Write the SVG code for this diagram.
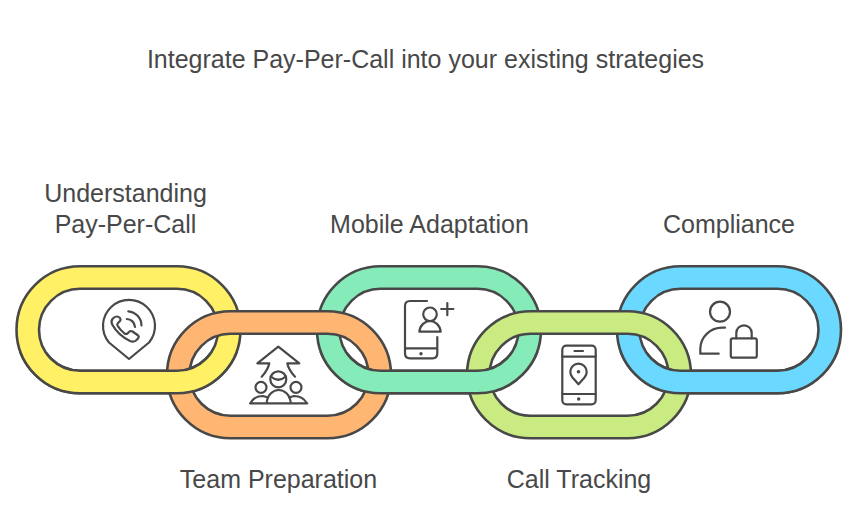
<svg xmlns="http://www.w3.org/2000/svg" xmlns:xlink="http://www.w3.org/1999/xlink" width="858" height="510" viewBox="0 0 858 510">
<style>
.link{stroke:#484848;stroke-width:2.6;fill-rule:evenodd}
.ic{fill:none;stroke:#484848;stroke-width:2.2;stroke-linecap:round;stroke-linejoin:round}
.dot{fill:#484848;stroke:none}
text{font-family:"Liberation Sans",Arial,sans-serif;font-size:25px;fill:#484848;text-anchor:middle}
</style>
<defs>
<path id="ring" d="M63.5 0H160.5A63.5 63.5 0 0 1 160.5 127H63.5A63.5 63.5 0 0 1 63.5 0ZM63.5 22.5A41 41 0 0 0 63.5 104.5H160.5A41 41 0 0 0 160.5 22.5Z"/>
<clipPath id="lower"><rect x="0" y="352" width="858" height="60"/></clipPath>
</defs>
<rect width="858" height="510" fill="#fff"/>
<text id="title" x="425.5" y="68">Integrate Pay-Per-Call into your existing strategies</text>

<g id="node-understanding">
<use href="#ring" class="link" fill="#FFF066" transform="translate(16.5 266.3)"/>
<text x="125.5" y="202">Understanding</text>
<text x="125.5" y="233">Pay-Per-Call</text>
<path class="ic" d="M129 359L109 342.5A26 26 0 1 1 149 342.5Z"/>
<path class="ic" d="M117 316.5Q115 316.5 113.5 318L112.5 319Q110.5 321.5 112.5 325Q118 335 130 341Q133.5 342.5 136 340.5L138 338.5Q139.5 336.5 137.5 335L132.5 331.5Q131 330.5 129.5 331.5L127.5 333.5Q126 334.5 124.5 333.5Q120 330 117.5 325.5Q116.8 324 118 323L120 321Q121 319.5 120 318Q118.5 316.5 117 316.5Z"/>
<path class="ic" d="M128.3 311.3A14.5 14.5 0 0 1 141.5 325.5M126.8 319A8.5 8.5 0 0 1 135 327"/>
</g>

<g id="node-mobile">
<use href="#ring" class="link" fill="#85EBB8" transform="translate(317 266.3)"/>
<text x="429.5" y="233">Mobile Adaptation</text>
<path class="ic" d="M427 301H410Q405 301 405 306V353.5Q405 358.3 410 358.3H432.5Q437.3 358.3 437.3 353.5V337M405 348.3H437.3"/>
<circle class="dot" cx="421" cy="353.7" r="1.7"/>
<circle class="ic" cx="430" cy="314.3" r="6.8"/>
<path class="ic" d="M419.3 331.7H440.7C440 325 435 321 430 321C425 321 420 325 419.3 331.7Z"/>
<path class="ic" d="M447.3 303V315.2M441.2 309H453.4"/>
</g>

<g id="node-compliance">
<use href="#ring" class="link" fill="#6BD9FF" transform="translate(617 266.3)"/>
<text x="729" y="233">Compliance</text>
<circle class="ic" cx="720" cy="311.7" r="10"/>
<path class="ic" d="M725 327.7H722.5C710 327.7 700.3 337 700.3 349V353.7H718.7"/>
<rect class="ic" x="730.8" y="338.3" width="26" height="19.4" rx="2"/>
<path class="ic" d="M736.3 338.3V333A7.7 7.7 0 0 1 751.7 333V338.3"/>
</g>

<g id="node-team">
<use href="#ring" class="link" fill="#FFB673" transform="translate(167 311.3)"/>
<text x="278.5" y="488">Team Preparation</text>
<path class="ic" d="M261.7 376.7Q268 370 269.3 363.3H257.3L278.3 346.7L299.3 363.3H287.3Q288.6 370 295 376.7"/>
<circle class="ic" cx="278.3" cy="379.3" r="8"/>
<path class="ic" d="M270.8 376.5Q278.3 383 285.8 376.5"/>
<circle class="ic" cx="261" cy="387.3" r="5.5"/>
<circle class="ic" cx="296" cy="387.3" r="5.5"/>
<path class="ic" d="M250 403.3H307.3M266.7 403.3C267 395 273 390 278.7 390C284.5 390 290.5 395 290.7 403.3M250.5 403.3Q254 396 263 396L268 397.5M306.8 403.3Q303 396 294 396L289 397.5"/>
</g>

<g id="node-tracking">
<use href="#ring" class="link" fill="#C9EB82" transform="translate(467 311.3)"/>
<text x="579" y="488">Call Tracking</text>
<rect class="ic" x="562.3" y="345.7" width="33.4" height="58.6" rx="4"/>
<path class="ic" d="M562.3 356.7H595.7M562.3 394H595.7M574.5 351H583"/>
<circle class="dot" cx="578.7" cy="399" r="1.7"/>
<path class="ic" d="M578.5 384.3L572.5 377.5A8.2 8.2 0 1 1 584.5 377.5Z"/>
<circle class="dot" cx="578.5" cy="371.7" r="1.8"/>
</g>

<g id="link-overlaps" clip-path="url(#lower)">
<use href="#ring" class="link" fill="#FFF066" transform="translate(16.5 266.3)"/>
<use href="#ring" class="link" fill="#85EBB8" transform="translate(317 266.3)"/>
<use href="#ring" class="link" fill="#6BD9FF" transform="translate(617 266.3)"/>
</g>
</svg>
